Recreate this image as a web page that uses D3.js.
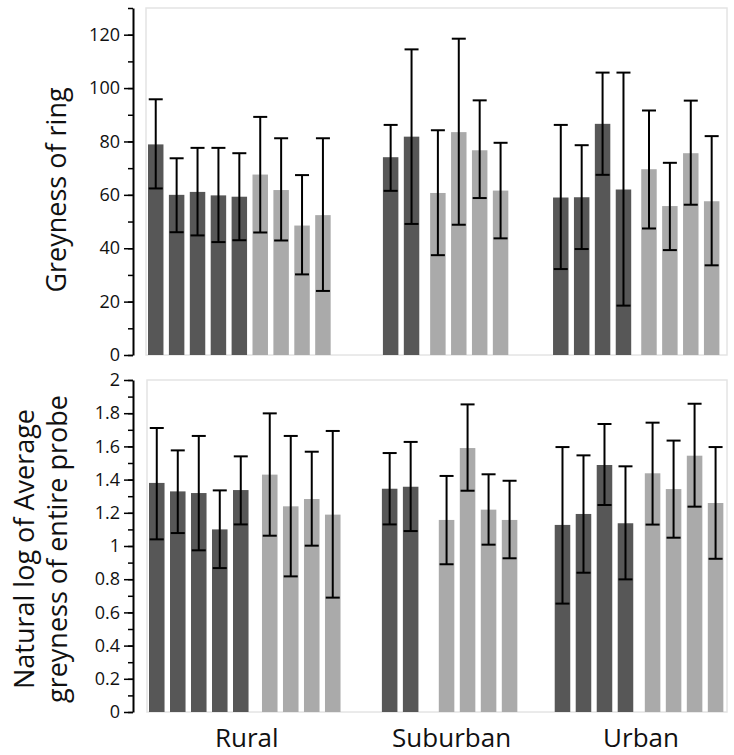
<!DOCTYPE html>
<html>
<head>
<meta charset="utf-8">
<script src="https://cdn.jsdelivr.net/npm/d3@7"></script>
<style>
  body { margin: 0; background: #fff; }
  svg text { font-family: "Open Sans", "Noto Sans", sans-serif; fill: #111; }
  .axis path, .axis line { stroke: #000; }
</style>
</head>
<body>
<div id="chart"></div>
<script>
// locations, and how many dark / light bars each one has
var locations = ["Rural", "Suburban", "Urban"];
var darkCounts = [5, 2, 4];
var lightCounts = [4, 4, 4];

// Greyness of ring (bar = mean, whisker low / high)
var ringMean = [78.9, 60.0, 61.1, 59.8, 59.3, 67.6, 61.8, 48.5, 52.4,
                74.1, 81.8, 60.7, 83.5, 76.7, 61.6,
                59.0, 59.1, 86.6, 62.0, 69.6, 55.8, 75.6, 57.6];
var ringLow  = [62.4, 46.0, 44.8, 42.3, 43.0, 45.9, 42.9, 30.2, 24.0,
                61.5, 49.1, 37.4, 48.8, 58.8, 43.7,
                32.2, 39.7, 67.5, 18.5, 47.4, 39.3, 56.3, 33.6];
var ringHigh = [95.8, 73.7, 77.6, 77.6, 75.6, 89.2, 81.2, 67.4, 81.2,
                86.2, 114.5, 84.2, 118.5, 95.4, 79.5,
                86.2, 78.6, 105.8, 105.8, 91.6, 72.0, 95.3, 82.0];

// Natural log of average greyness of entire probe
var logMean = [1.380, 1.329, 1.319, 1.100, 1.337, 1.430, 1.239, 1.283, 1.189,
               1.345, 1.357, 1.157, 1.590, 1.219, 1.157,
               1.127, 1.193, 1.488, 1.137, 1.438, 1.343, 1.544, 1.259];
var logLow  = [1.040, 1.078, 0.974, 0.867, 1.130, 1.062, 0.817, 1.002, 0.689,
               1.130, 1.090, 0.890, 1.333, 1.008, 0.926,
               0.653, 0.839, 1.247, 0.799, 1.129, 1.050, 1.237, 0.923];
var logHigh = [1.711, 1.576, 1.663, 1.335, 1.540, 1.799, 1.663, 1.568, 1.693,
               1.560, 1.627, 1.422, 1.853, 1.432, 1.393,
               1.596, 1.546, 1.735, 1.480, 1.743, 1.635, 1.857, 1.596];

var ringTicks = [0, 20, 40, 60, 80, 100, 120];
var logTicks = [0, 0.2, 0.4, 0.6, 0.8, 1, 1.2, 1.4, 1.6, 1.8, 2];

var width = 734, height = 755;
var DARK = "#575757", LIGHT = "#aaaaaa";

var svg = d3.select("#chart").append("svg")
  .attr("width", width)
  .attr("height", height);

// build slot positions (in bar units) for every bar, with extra gaps
function slots(shadeGap, groupGap) {
  var out = [], s = 0;
  locations.forEach(function(loc, g) {
    if (g > 0) s += groupGap[g - 1];
    for (var i = 0; i < darkCounts[g]; i++) { out.push({loc: g, shade: 0, slot: s}); s += 1; }
    s += shadeGap[g];
    for (var j = 0; j < lightCounts[g]; j++) { out.push({loc: g, shade: 1, slot: s}); s += 1; }
  });
  return out;
}

function panel(cfg) {
  var bars = slots(cfg.shadeGap, cfg.groupGap);
  bars.forEach(function(b, i) {
    b.mean = cfg.mean[i]; b.low = cfg.low[i]; b.high = cfg.high[i];
  });

  var x = d3.scaleLinear().domain([0, 1]).range([cfg.x0, cfg.x0 + cfg.pitch]);
  var y = d3.scaleLinear().domain(cfg.domain).range([cfg.bottom, cfg.top]);
  var bw = cfg.pitch * 0.74;

  var g = svg.append("g");

  // light frame around the plot area
  g.append("rect")
    .attr("x", cfg.frameLeft)
    .attr("y", y(cfg.domain[1]))
    .attr("width", 727 - cfg.frameLeft)
    .attr("height", cfg.bottom - y(cfg.domain[1]))
    .attr("fill", "none")
    .attr("stroke", "#e4e4e4")
    .attr("stroke-width", 1.5);

  g.selectAll(".bar")
    .data(bars)
    .enter().append("rect")
      .attr("class", "bar")
      .attr("x", function(d) { return x(d.slot); })
      .attr("y", function(d) { return y(d.mean); })
      .attr("width", bw)
      .attr("height", function(d) { return cfg.bottom - y(d.mean); })
      .attr("fill", function(d) { return d.shade ? LIGHT : DARK; });

  // error bars
  var eb = g.selectAll(".err")
    .data(bars)
    .enter().append("g")
      .attr("class", "err")
      .attr("transform", function(d) { return "translate(" + (x(d.slot) + bw / 2) + ",0)"; })
      .attr("stroke", "#000")
      .attr("stroke-width", 2);
  eb.append("line")
    .attr("y1", function(d) { return y(d.low); })
    .attr("y2", function(d) { return y(d.high); });
  eb.append("line")
    .attr("x1", -7).attr("x2", 7)
    .attr("y1", function(d) { return y(d.high); })
    .attr("y2", function(d) { return y(d.high); });
  eb.append("line")
    .attr("x1", -7).attr("x2", 7)
    .attr("y1", function(d) { return y(d.low); })
    .attr("y2", function(d) { return y(d.low); });

  // y axis: minor ticks, then major ticks with labels
  var minor = d3.range(cfg.domain[0], cfg.domain[1] + cfg.minorStep / 2, cfg.minorStep);
  g.append("g")
    .attr("class", "axis")
    .attr("transform", "translate(133,0)")
    .call(d3.axisLeft(y).tickValues(minor).tickSize(5).tickFormat(""))
    .call(function(s) { s.select(".domain").remove(); })
    .selectAll("line").attr("stroke-width", 1.5);

  var major = g.append("g")
    .attr("class", "axis")
    .attr("transform", "translate(133,0)")
    .call(d3.axisLeft(y).tickValues(cfg.ticks).tickSize(9).tickSizeOuter(0).tickPadding(4)
      .tickFormat(function(d) { return String(+d.toFixed(1)); }));
  major.select(".domain").attr("stroke-width", 2);
  major.selectAll("line").attr("stroke-width", 1.5);
  major.selectAll("text")
    .style("font-size", "18px")
    .attr("fill", "#111");

  // axis title
  var t = g.append("text")
    .attr("transform", "translate(0," + cfg.titleY + ") rotate(-90)")
    .attr("text-anchor", "middle")
    .style("font-size", "27px");
  cfg.title.forEach(function(line, i) {
    t.append("tspan")
      .attr("x", 0)
      .attr("y", cfg.titleX[i])
      .text(line);
  });

  return {bars: bars, x: x, bw: bw};
}

panel({
  mean: ringMean, low: ringLow, high: ringHigh,
  domain: [0, 130], ticks: ringTicks, minorStep: 10,
  top: 8, bottom: 355,
  x0: 148, pitch: 20.9, frameLeft: 146,
  shadeGap: [0, 0.26, 0.22], groupGap: [2.24, 1.88],
  title: ["Greyness of ring"], titleX: [66], titleY: 190
});

var bottomPanel = panel({
  mean: logMean, low: logLow, high: logHigh,
  domain: [0, 2], ticks: logTicks, minorStep: 0.1,
  top: 380, bottom: 712,
  x0: 149, pitch: 21, frameLeft: 147,
  shadeGap: [0.38, 0.71, 0.29], groupGap: [1.71, 1.52],
  title: ["Natural log of Average", "greyness of entire probe"], titleX: [34, 67], titleY: 549
});

// location labels under the lower panel
svg.append("g").selectAll(".loc")
  .data(locations)
  .enter().append("text")
    .attr("class", "loc")
    .attr("x", function(d, i) {
      var b = bottomPanel.bars.filter(function(v) { return v.loc == i; });
      return (bottomPanel.x(b[0].slot) + bottomPanel.x(b[b.length - 1].slot) + bottomPanel.bw) / 2 + 2;
    })
    .attr("y", 747)
    .attr("text-anchor", "middle")
    .style("font-size", "26px")
    .text(function(d) { return d; });
</script>
</body>
</html>
